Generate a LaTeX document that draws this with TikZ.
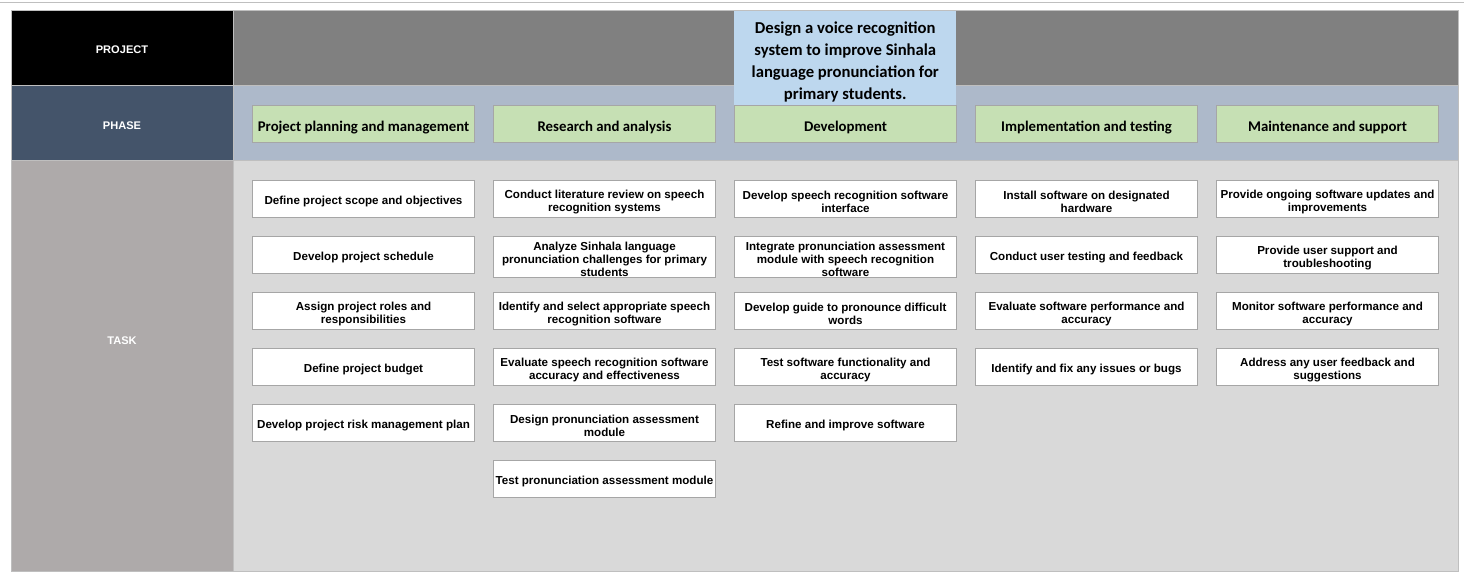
\documentclass[tikz,border=0pt]{standalone}
\usepackage{fontspec}
\setmainfont{Liberation Sans}
\newfontfamily\calfont{Carlito}
\begin{document}
\definecolor{bandgray}{HTML}{808080}
\definecolor{phasedark}{HTML}{44546A}
\definecolor{phaseband}{HTML}{ADB9CA}
\definecolor{phasebox}{HTML}{C6E0B4}
\definecolor{taskdark}{HTML}{AEAAAA}
\definecolor{taskarea}{HTML}{D9D9D9}
\definecolor{titleblue}{HTML}{BDD7EE}
\definecolor{boxline}{HTML}{A6A6A6}
\definecolor{cellline}{HTML}{BFBFBF}
\begin{tikzpicture}[x=0.75pt,y=-0.75pt,
  cell/.style={draw=cellline,line width=0.75pt},
  head/.style={text=white,font=\bfseries\fontsize{8.3}{9.75}\selectfont},
  % a tall invisible strut on the first line lowers the text a little
  phasecard/.style={draw=boxline,line width=0.75pt,fill=phasebox,anchor=north west,
    minimum width=166.5pt,minimum height=27.75pt,inner sep=0pt,
    execute at begin node={\rule{0pt}{12.6pt}},
    font=\calfont\bfseries\fontsize{11.1}{13}\selectfont},
  taskcard/.style={draw=boxline,line width=0.75pt,fill=white,anchor=north west,
    minimum width=166.5pt,minimum height=27.75pt,inner sep=0pt,
    text width=166pt,align=flush center,
    execute at begin node={\noindent\rule{0pt}{10.8pt}},
    font=\bfseries\fontsize{8.7}{9.75}\selectfont},
  titlecard/.style={fill=titleblue,anchor=north west,
    minimum width=166.5pt,minimum height=70.5pt,inner sep=0pt,
    text width=166pt,align=flush center,
    execute at begin node={\noindent\rule{0pt}{14.6pt}},
    font=\calfont\bfseries\fontsize{12.5}{16.5}\selectfont}]
\useasboundingbox (0,0) rectangle (1464,580);
\fill[white] (0,0) rectangle (1464,580);
% thin rule along the top edge
\draw[cellline,line width=1.2pt] (0,2.5) -- (1464,2.5);

% row headers and bands
\fill[black] (11,11) rectangle (233,86);
\fill[bandgray] (233,11) rectangle (1458,86);
\fill[phasedark] (11,86) rectangle (233,161);
\fill[phaseband] (233,86) rectangle (1458,161);
\fill[taskdark] (11,161) rectangle (233,572);
\fill[taskarea] (233,161) rectangle (1458,572);
\draw[cell] (11,11) rectangle (1458,572);
\draw[cell] (233,11) -- (233,572);
\draw[cell] (11,86) -- (1458,86);
\draw[cell] (11,161) -- (1458,161);

\node[head] (hproject) at (122,50) {PROJECT};
\node[head] (hphase) at (122,126) {PHASE};
\node[head] (htask) at (122,341) {TASK};

% phases
\node[phasecard] (p1) at (252,105) {Project planning and management};
\node[phasecard] (p2) at (493,105) {Research and analysis};
\node[phasecard] (p3) at (734,105) {Development};
\node[phasecard] (p4) at (975,105) {Implementation and testing};
\node[phasecard] (p5) at (1216,105) {Maintenance and support};

% project title
\node[titlecard] (title) at (734,11) {Design a voice recognition\\system to improve Sinhala\\language pronunciation for\\primary students.};

% tasks: planning
\node[taskcard] (a1) at (252,180) {Define project scope and objectives};
\node[taskcard] (a2) at (252,236) {Develop project schedule};
\node[taskcard] (a3) at (252,292) {Assign project roles and\\responsibilities};
\node[taskcard] (a4) at (252,348) {Define project budget};
\node[taskcard] (a5) at (252,404) {Develop project risk management plan};

% tasks: research
\node[taskcard] (b1) at (493,180) {Conduct literature review on speech\\recognition systems};
\node[taskcard] (b2) at (493,236) {Analyze Sinhala language\\pronunciation challenges for primary\\students};
\node[taskcard] (b3) at (493,292) {Identify and select appropriate speech\\recognition software};
\node[taskcard] (b4) at (493,348) {Evaluate speech recognition software\\accuracy and effectiveness};
\node[taskcard] (b5) at (493,404) {Design pronunciation assessment\\module};
\node[taskcard] (b6) at (493,460) {Test pronunciation assessment module};

% tasks: development
\node[taskcard] (c1) at (734,180) {Develop speech recognition software\\interface};
\node[taskcard] (c2) at (734,236) {Integrate pronunciation assessment\\module with speech recognition\\software};
\node[taskcard] (c3) at (734,292) {Develop guide to pronounce difficult\\words};
\node[taskcard] (c4) at (734,348) {Test software functionality and\\accuracy};
\node[taskcard] (c5) at (734,404) {Refine and improve software};

% tasks: implementation
\node[taskcard] (d1) at (975,180) {Install software on designated\\hardware};
\node[taskcard] (d2) at (975,236) {Conduct user testing and feedback};
\node[taskcard] (d3) at (975,292) {Evaluate software performance and\\accuracy};
\node[taskcard] (d4) at (975,348) {Identify and fix any issues or bugs};

% tasks: maintenance
\node[taskcard] (e1) at (1216,180) {Provide ongoing software updates and\\improvements};
\node[taskcard] (e2) at (1216,236) {Provide user support and\\troubleshooting};
\node[taskcard] (e3) at (1216,292) {Monitor software performance and\\accuracy};
\node[taskcard] (e4) at (1216,348) {Address any user feedback and\\suggestions};
\end{tikzpicture}
\end{document}
